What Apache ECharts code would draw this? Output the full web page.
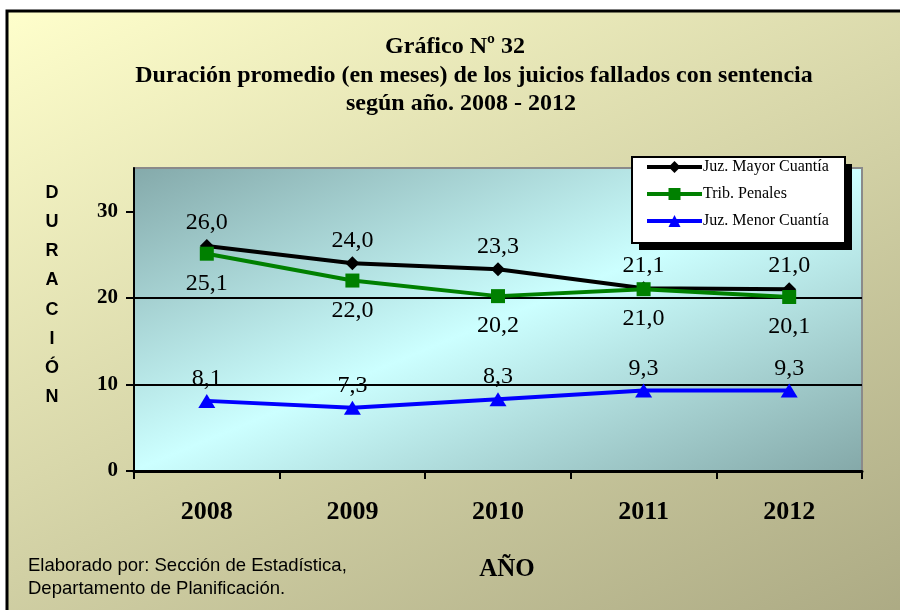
<!DOCTYPE html>
<html><head><meta charset="utf-8">
<script src="https://cdn.jsdelivr.net/npm/echarts@6/dist/echarts.min.js"></script>
<style>html,body{margin:0;padding:0;background:#fff;}#c{width:900px;height:610px;}</style>
</head><body><div id="c"></div>
<script>
const years = ['2008', '2009', '2010', '2011', '2012'];
const mayorCuantia = [26.0, 24.0, 23.3, 21.1, 21.0];
const tribPenales = [25.1, 22.0, 20.2, 21.0, 20.1];
const menorCuantia = [8.1, 7.3, 8.3, 9.3, 9.3];
const yTicks = [0, 10, 20, 30];
const seriesNames = ['Juz. Mayor Cuantía', 'Trib. Penales', 'Juz. Menor Cuantía'];
const titleLines = ['Gráfico Nº 32', 'Duración promedio (en meses) de los juicios fallados con sentencia', 'según año. 2008 - 2012'];
const yAxisTitle = 'DURACIÓN';
const xAxisTitle = 'AÑO';
const footerLines = ['Elaborado por: Sección de Estadística,', 'Departamento de Planificación.'];

const SERIF = '"Liberation Serif", "Times New Roman", serif';
const SANS = '"Liberation Sans", Arial, sans-serif';
const fmt = v => v.toFixed(1).replace('.', ',');

const chart = echarts.init(document.getElementById('c'), null, {renderer: 'canvas'});

const titleX = [455, 474, 461];
const titleY = [47, 76, 104];
const graphics = [
  {
    type: 'rect', z: -100, silent: true,
    shape: {x: 7, y: 11, width: 900, height: 610},
    style: {
      fill: new echarts.graphic.LinearGradient(0.27, -0.2, 0.73, 1.2, [
        {offset: 0, color: '#FFFFCC'},
        {offset: 1, color: '#ABA983'}
      ]),
      stroke: '#000', lineWidth: 3
    }
  },
  // legend frame shadow and box
  {type: 'rect', z: 50, silent: true, shape: {x: 639, y: 164, width: 213, height: 86}, style: {fill: '#000'}},
  {type: 'rect', z: 51, silent: true, shape: {x: 632, y: 157, width: 213, height: 86}, style: {fill: '#fff', stroke: '#000', lineWidth: 2}}
];
titleLines.forEach((t, i) => graphics.push({
  type: 'text', z: 100,
  style: {text: t, x: titleX[i], y: titleY[i], textAlign: 'center', textVerticalAlign: 'middle',
    font: 'bold 24px ' + SERIF, fill: '#000'}
}));
graphics.push({
  type: 'text', z: 100,
  style: {text: yAxisTitle.split('').join('\n'), x: 52, y: 295, textAlign: 'center', textVerticalAlign: 'middle',
    font: 'bold 18px ' + SANS, lineHeight: 29.2, fill: '#000'}
});
graphics.push({
  type: 'text', z: 100,
  style: {text: xAxisTitle, x: 507, y: 570, textAlign: 'center', textVerticalAlign: 'middle',
    font: 'bold 25px ' + SERIF, fill: '#000'}
});
footerLines.forEach((t, i) => graphics.push({
  type: 'text', z: 100,
  style: {text: t, x: 28, y: 566 + i * 22.5, textAlign: 'left', textVerticalAlign: 'middle',
    font: '18.5px ' + SANS, fill: '#000'}
}));

const labelStyle = {show: true, formatter: p => fmt(p.value), fontFamily: SERIF, fontSize: 24, color: '#000'};

chart.setOption({
  animation: false,
  backgroundColor: 'transparent',
  graphic: graphics,
  grid: {
    left: 134, right: 38, top: 168, bottom: 139,
    show: true,
    borderColor: '#8a8a8a', borderWidth: 2,
    backgroundColor: new echarts.graphic.LinearGradient(0.3525, -0.352, 0.6475, 1.352, [
      {offset: 0, color: '#84A9AA'},
      {offset: 0.5, color: '#CCFFFF'},
      {offset: 1, color: '#84A8A8'}
    ])
  },
  legend: {
    orient: 'vertical',
    left: 645, top: 159,
    padding: 0,
    z: 60,
    itemWidth: 55, itemHeight: 15, itemGap: 11,
    lineStyle: {width: 4},
    textStyle: {fontFamily: SERIF, fontSize: 16, color: '#000', padding: [0, 0, 0, -4]},
    data: seriesNames
  },
  xAxis: {
    type: 'category', data: years, boundaryGap: true,
    axisLine: {lineStyle: {color: '#000', width: 3}},
    axisTick: {show: true, length: 8, lineStyle: {color: '#000', width: 2}},
    axisLabel: {fontFamily: SERIF, fontWeight: 'bold', fontSize: 26, color: '#000', margin: 28},
    splitLine: {show: false}
  },
  yAxis: {
    type: 'value', min: 0, max: 35, interval: 10,
    axisLine: {show: true, lineStyle: {color: '#000', width: 2}},
    axisTick: {show: true, length: 8, lineStyle: {color: '#000', width: 2}, customValues: yTicks},
    axisLabel: {fontFamily: SERIF, fontWeight: 'bold', fontSize: 21, color: '#000', margin: 16, customValues: yTicks},
    splitLine: {show: true, showMaxLine: false, showMinLine: false, lineStyle: {color: '#000', width: 2}}
  },
  series: [
    {
      name: seriesNames[0], type: 'line', data: mayorCuantia,
      symbol: 'diamond', symbolSize: 14,
      lineStyle: {color: '#000', width: 4}, itemStyle: {color: '#000'},
      label: Object.assign({}, labelStyle, {position: 'top', distance: 4}),
      z: 3
    },
    {
      name: seriesNames[1], type: 'line', data: tribPenales,
      symbol: 'rect', symbolSize: 14,
      lineStyle: {color: '#008000', width: 4}, itemStyle: {color: '#008000'},
      label: Object.assign({}, labelStyle, {position: 'bottom', distance: 11}),
      z: 4
    },
    {
      name: seriesNames[2], type: 'line', data: menorCuantia,
      symbol: 'triangle', symbolSize: [17, 14],
      lineStyle: {color: '#0000FF', width: 4}, itemStyle: {color: '#0000FF'},
      label: Object.assign({}, labelStyle, {position: 'top', distance: 3}),
      z: 3
    }
  ]
});
</script>
</body></html>
